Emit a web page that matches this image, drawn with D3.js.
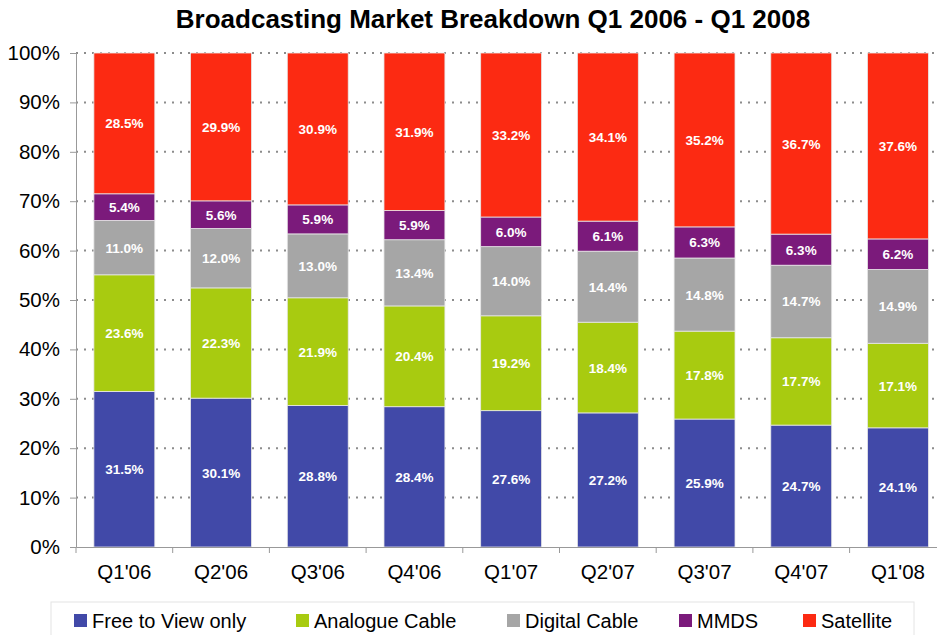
<!DOCTYPE html>
<html>
<head>
<meta charset="utf-8">
<script src="https://cdn.jsdelivr.net/npm/d3@7"></script>
<style>
  body { margin: 0; background: #fff; }
  svg { font-family: "Liberation Sans", Arial, sans-serif; display: block; }
</style>
</head>
<body>
<svg></svg>
<script>
var quarters = ["Q1'06", "Q2'06", "Q3'06", "Q4'06", "Q1'07", "Q2'07", "Q3'07", "Q4'07", "Q1'08"];
var freeToView = [31.5, 30.1, 28.8, 28.4, 27.6, 27.2, 25.9, 24.7, 24.1];
var analogueCable = [23.6, 22.3, 21.9, 20.4, 19.2, 18.4, 17.8, 17.7, 17.1];
var digitalCable = [11.0, 12.0, 13.0, 13.4, 14.0, 14.4, 14.8, 14.7, 14.9];
var mmds = [5.4, 5.6, 5.9, 5.9, 6.0, 6.1, 6.3, 6.3, 6.2];
var satellite = [28.5, 29.9, 30.9, 31.9, 33.2, 34.1, 35.2, 36.7, 37.6];
var seriesNames = ["Free to View only", "Analogue Cable", "Digital Cable", "MMDS", "Satellite"];
var yTicks = [0, 10, 20, 30, 40, 50, 60, 70, 80, 90, 100];

var colors = ["#4149a8", "#a8cb10", "#a6a6a6", "#7b1a7b", "#fc2a12"];
var seriesValues = [freeToView, analogueCable, digitalCable, mmds, satellite];

var svgWidth = 937, svgHeight = 635;
var plotLeft = 76, plotTop = 53, plotBottom = 547, bandW = 96.7;

var svg = d3.select("svg").attr("width", svgWidth).attr("height", svgHeight);

// build table rows for stacking (100% stacked, so normalise each column)
var rows = quarters.map(function (q, i) {
    var r = { q: q };
    seriesNames.forEach(function (s, k) { r[s] = seriesValues[k][i]; });
    return r;
});
var stacked = d3.stack().keys(seriesNames).offset(d3.stackOffsetExpand)(rows);

var x = d3.scaleBand().domain(quarters).range([plotLeft, plotLeft + bandW * quarters.length])
        .paddingInner(0.37).paddingOuter(0.185);
var y = d3.scaleLinear().domain([0, 100]).range([plotBottom, plotTop]);

svg.append("text")
    .attr("x", 493).attr("y", 28)
    .attr("text-anchor", "middle")
    .attr("font-size", 26).attr("font-weight", "bold")
    .text("Broadcasting Market Breakdown Q1 2006 - Q1 2008");

// dotted gridlines
svg.append("g").selectAll("line")
    .data(yTicks.slice(1))
    .enter().append("line")
    .attr("x1", plotLeft).attr("x2", svgWidth + 20)
    .attr("y1", function (d) { return y(d); })
    .attr("y2", function (d) { return y(d); })
    .attr("stroke", "#8c8c8c").attr("stroke-width", 2)
    .attr("stroke-dasharray", "2,6");

// bars
var layer = svg.append("g").selectAll("g")
    .data(stacked)
    .enter().append("g")
    .attr("fill", function (d, i) { return colors[i]; });

layer.selectAll("rect")
    .data(function (d) { return d; })
    .enter().append("rect")
    .attr("x", function (d) { return x(d.data.q); })
    .attr("width", x.bandwidth())
    .attr("y", function (d) { return y(d[1] * 100); })
    .attr("height", function (d) { return y(d[0] * 100) - y(d[1] * 100); })
    .attr("stroke", "#e8e8e8").attr("stroke-width", 0.8);

layer.selectAll("text")
    .data(function (d) { return d.map(function (p) { p.key = d.key; return p; }); })
    .enter().append("text")
    .attr("x", function (d) { return x(d.data.q) + x.bandwidth() / 2; })
    .attr("y", function (d) { return (y(d[0] * 100) + y(d[1] * 100)) / 2 + 5; })
    .attr("text-anchor", "middle")
    .attr("fill", "#fff").attr("font-size", 13.5).attr("font-weight", "bold")
    .text(function (d) { return d.data[d.key].toFixed(1) + "%"; });

// y axis
var yAxis = svg.append("g")
    .attr("transform", "translate(" + plotLeft + ",0)")
    .call(d3.axisLeft(y).tickValues(yTicks).tickSize(6).tickPadding(10)
        .tickFormat(function (d) { return d + "%"; }));
yAxis.select(".domain").attr("stroke", "#999");
yAxis.selectAll(".tick line").attr("stroke", "#999");
yAxis.selectAll("text").attr("font-size", 20.5).attr("fill", "#000")
    .attr("font-family", "Liberation Sans, Arial, sans-serif");

// x axis
var xAxis = svg.append("g")
    .attr("transform", "translate(0," + plotBottom + ")")
    .call(d3.axisBottom(x).tickSize(0).tickPadding(17));
xAxis.select(".domain").attr("stroke", "#999");
xAxis.selectAll("text").attr("font-size", 20.5).attr("fill", "#000")
    .attr("font-family", "Liberation Sans, Arial, sans-serif");
xAxis.selectAll(".sep")
    .data(d3.range(quarters.length + 1))
    .enter().append("line")
    .attr("x1", function (i) { return plotLeft + i * bandW; })
    .attr("x2", function (i) { return plotLeft + i * bandW; })
    .attr("y1", 0).attr("y2", 6)
    .attr("stroke", "#999");

// legend
var legX = [74, 296, 507, 679, 803];
svg.append("rect")
    .attr("x", 51).attr("y", 602).attr("width", 863).attr("height", 50)
    .attr("fill", "#fff").attr("stroke", "#e4e4e4");
var leg = svg.append("g").selectAll("g")
    .data(seriesNames)
    .enter().append("g")
    .attr("transform", function (d, i) { return "translate(" + legX[i] + ",614)"; });
leg.append("rect")
    .attr("width", 13).attr("height", 13)
    .attr("fill", function (d, i) { return colors[i]; });
leg.append("text")
    .attr("x", 18).attr("y", 14)
    .attr("font-size", 20)
    .text(function (d) { return d; });
</script>
</body>
</html>
